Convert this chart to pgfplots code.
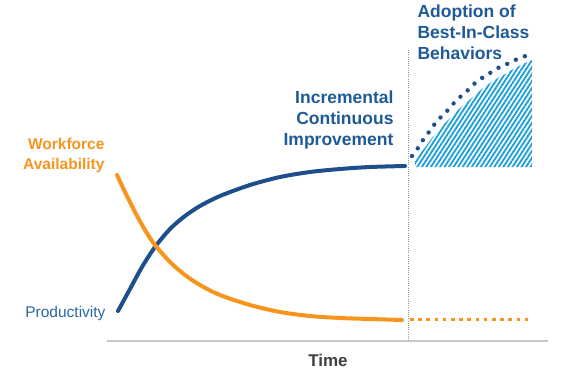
\documentclass[border=0pt]{standalone}
\usepackage{pgfplots}
\pgfplotsset{compat=1.18}
\usetikzlibrary{patterns.meta}
\usepackage{fontspec}
\setmainfont{Liberation Sans}
\definecolor{dblue}{HTML}{1F4E8C}
\definecolor{tblue}{HTML}{1F5A98}
\definecolor{pblue}{HTML}{2A66A5}
\definecolor{orng}{HTML}{F7941D}
\definecolor{hatch}{HTML}{22A0D8}
\definecolor{axgray}{HTML}{C8C8C8}
\begin{document}
\begin{tikzpicture}
\begin{axis}[scale only axis, width=570pt, height=370pt,
  xmin=0, xmax=570, ymin=0, ymax=370, y dir=reverse,
  axis lines=none, clip=false]
\addplot[draw=none] coordinates {(0,0) (570,370)};
% x axis line
\addplot[axgray, line width=1.6pt] coordinates {(107,341) (548,341)};
% vertical dotted divider
\addplot[gray!85, line width=1pt, dash pattern=on 1pt off 1.2pt] coordinates {(408,50) (408,341)};
% hatch area
\addplot[draw=none, pattern={Lines[angle=57, distance=3.8pt, line width=1.9pt]}, pattern color=hatch]
  coordinates {(415,167) (415,161) (420,154) (426,146) (432,138) (438,131) (444,124) (451,117) (458,110) (466,103) (474,96) (482,89) (490,83) (498,78) (507,73) (515,68) (523,64) (532,60) (532,167)} -- cycle;
% blue solid
\addplot[dblue, line width=4pt, smooth, line cap=round]
  coordinates {(118,311) (130,289) (142,267) (155,247) (170,229) (185,216) (200,206) (220,196) (250,185) (280,177) (310,172) (340,169) (370,167) (405,166)};
% blue dotted
\addplot[dblue, line width=4.4pt, smooth, line cap=round, dash pattern=on 0pt off 9.6pt]
  coordinates {(412,156) (418,148) (423,140) (429,132) (434,125) (440,118) (447,111) (453,104) (459,98) (467,91) (474,84) (482,78) (490,73) (498,68) (507,64) (515,60) (523,57) (532,53)};
% orange solid
\addplot[orng, line width=4pt, smooth, line cap=round]
  coordinates {(117,175) (125,192) (135,212) (145,230) (155,245) (170,262) (185,275) (200,285) (220,295) (250,305) (280,312) (310,316) (340,318) (370,319) (402,320)};
% orange dotted
\addplot[orng, line width=3.8pt, dash pattern=on 3.6pt off 4.6pt]
  coordinates {(410,319.5) (532,319.5)};
% labels
\node[anchor=east, align=right, text=orng, font=\fontsize{15.5}{20}\selectfont\bfseries] at (axis cs:108,155.5) {Workforce\\Availability};
\node[anchor=east, text=pblue, font=\fontsize{15.5}{18}\selectfont] at (axis cs:109,313) {Productivity};
\node[anchor=east, align=right, text=tblue, font=\fontsize{17.5}{21}\selectfont\bfseries] at (axis cs:397,120) {Incremental\\Continuous\\Improvement};
\node[anchor=west, align=left, text=tblue, font=\fontsize{17.5}{21}\selectfont\bfseries] at (axis cs:414,32) {Adoption of\\Best-In-Class\\Behaviors};
\node[text=black!75, font=\fontsize{17}{19}\selectfont\bfseries] at (axis cs:328,360) {Time};
\end{axis}
\end{tikzpicture}
\end{document}
